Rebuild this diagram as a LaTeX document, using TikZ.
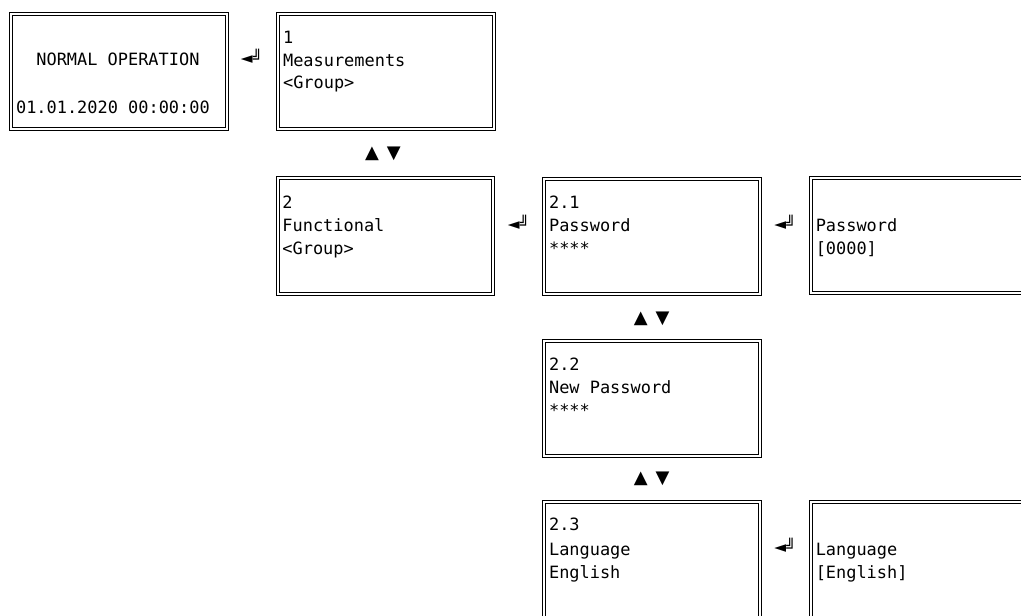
\documentclass[tikz,border=0pt]{standalone}
\usepackage{fontspec}
\setmonofont{DejaVu Sans Mono}
\newfontfamily\symfont{DejaVu Sans}
\usetikzlibrary{fit,calc}
\begin{document}
\begin{tikzpicture}[x=0.75pt,y=-0.75pt,
  dbl/.style={draw=black, line width=0.7pt, double=white, double distance=1.4pt, inner sep=0pt},
  txt/.style={anchor=base west, inner sep=0pt, font=\ttfamily\fontsize{12.7}{15}\selectfont},
  updown/.style={inner sep=0pt, font=\symfont\fontsize{13.5}{16}\selectfont},
  enter/.style={inner sep=0pt, font=\symfont\fontsize{11.5}{13}\selectfont}]
\useasboundingbox (0,0) rectangle (1021,615);
\clip (0,0) rectangle (1021,615);

% boxes
\node[dbl, fit={(10.7,14) (227.3,129)}] (A) {};
\node[dbl, fit={(278.3,14) (494,129)}] (B) {};
\node[dbl, fit={(277.7,178.3) (493.3,294.3)}] (C) {};
\node[dbl, fit={(544.3,179) (760,294.3)}] (D) {};
\node[dbl, fit={(811,178.3) (1027,293.3)}] (E) {};
\node[dbl, fit={(544.3,340.7) (760,455.7)}] (F) {};
\node[dbl, fit={(544.3,501.7) (760,618)}] (G) {};
\node[dbl, fit={(811,501.7) (1027,618)}] (H) {};

% texts
\node[txt] (a1) at (36.1,65.7) {NORMAL OPERATION};
\node[txt] (a2) at (15.8,113) {01.01.2020 00:00:00};

\node[txt] (b1) at (282.8,43.3) {1};
\node[txt] (b2) at (282.8,66) {Measurements};
\node[txt] (b3) at (282.8,88.5) {<Group>};

\node[txt] (c1) at (282.2,208) {2};
\node[txt] (c2) at (282.2,231.5) {Functional};
\node[txt] (c3) at (282.2,254) {<Group>};

\node[txt] (d1) at (548.8,208) {2.1};
\node[txt] (d2) at (548.8,231.5) {Password};
\node[txt] (d3) at (548.8,254) {****};

\node[txt] (e1) at (815.5,231.5) {Password};
\node[txt] (e2) at (815.5,254) {[0000]};

\node[txt] (f1) at (548.8,370) {2.2};
\node[txt] (f2) at (548.8,393.3) {New Password};
\node[txt] (f3) at (548.8,416) {****};

\node[txt] (g1) at (548.8,530.7) {2.3};
\node[txt] (g2) at (548.8,555) {Language};
\node[txt] (g3) at (548.8,578) {English};

\node[txt] (h1) at (815.5,555) {Language};
\node[txt] (h2) at (815.5,578) {[English]};

% navigation markers
\node[updown] (ud1) at (383,153.5) {▲\hspace{6pt}▼};
\node[updown] (ud2) at (651.7,319) {▲\hspace{6pt}▼};
\node[updown] (ud3) at (651.7,479) {▲\hspace{6pt}▼};

\node[enter] (en1) at (251.5,56) {◄╝};
\node[enter] (en2) at (518.5,222.5) {◄╝};
\node[enter] (en3) at (785,222.5) {◄╝};
\node[enter] (en4) at (785,545) {◄╝};
\end{tikzpicture}
\end{document}
